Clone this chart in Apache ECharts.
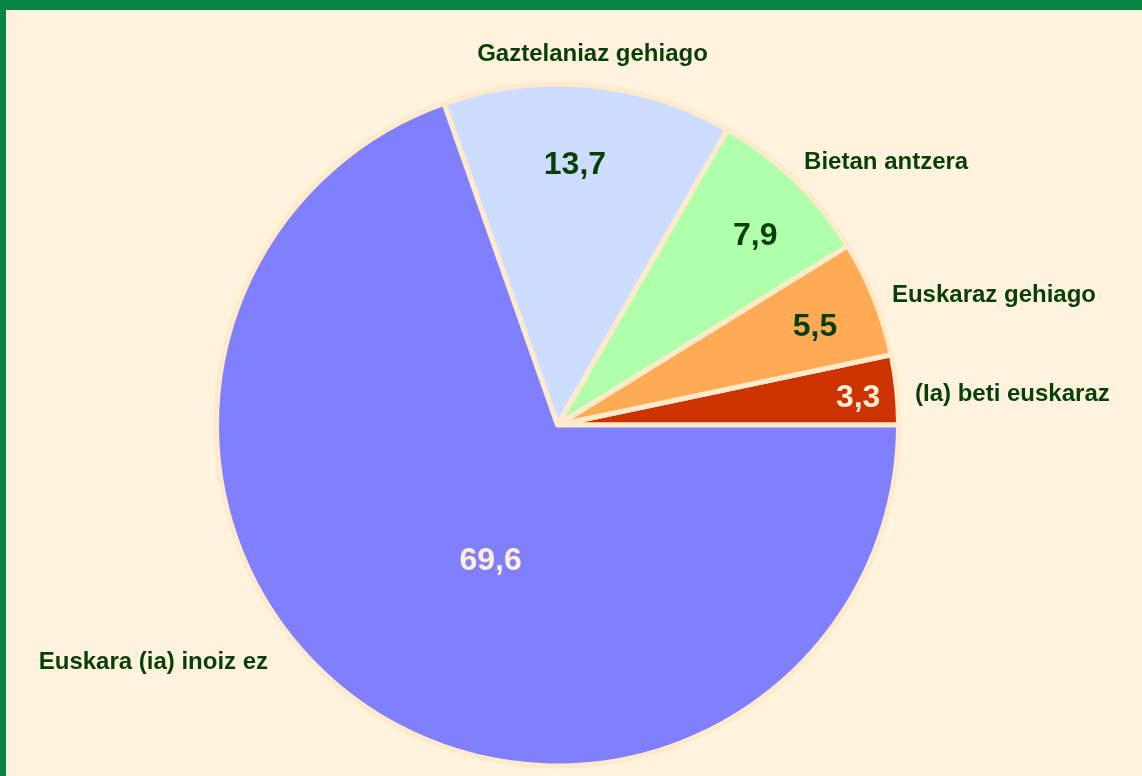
<!DOCTYPE html>
<html>
<head>
<meta charset="utf-8">
<script src="https://cdn.jsdelivr.net/npm/echarts@6/dist/echarts.min.js"></script>
<style>
  html, body { margin: 0; padding: 0; background: #FFF3DE; }
  #wrap { position: relative; width: 1142px; height: 776px; overflow: hidden; }
  #chart { position: absolute; left: 0; top: 0; width: 1142px; height: 776px; }
  .bar { position: absolute; background: #07843F; }
</style>
</head>
<body>
<div id="wrap">
  <div id="chart"></div>
  <div class="bar" style="left:0;top:0;width:1142px;height:10px;"></div>
  <div class="bar" style="left:0;top:0;width:6px;height:776px;"></div>
</div>
<script>
// ---- data ----
const categories = ['(Ia) beti euskaraz', 'Euskaraz gehiago', 'Bietan antzera', 'Gaztelaniaz gehiago', 'Euskara (ia) inoiz ez'];
const values = [3.3, 5.5, 7.9, 13.7, 69.6];

// ---- style ----
const sliceColors = ['#CC3300', '#FFAA55', '#B0FFAA', '#CCDDFF', '#8080FF'];
const cream = '#FFEFD5';
const darkGreen = '#073F07';
const FONT = '"Liberation Sans", Arial, sans-serif';
const valueTextColors = [cream, darkGreen, darkGreen, darkGreen, cream];
// [radius px, angle shift deg] relative to slice mid-angle
const valuePlace = [[302, -0.5], [276, -0.65], [275, -1.9], [262, 1.4], [150, 8.8]];
// [radius px, angle shift deg, align]
const namePlace = [[359, -0.67, 'left'], [359.4, -0.3, 'left'], [361.6, 1.1, 'left'], [374.6, -0.14, 'center'], [373, -15.6, 'right']];
const TEXT_DY = 2;

const CX = 557.5, CY = 425, R = 341;
const total = values.reduce((a, b) => a + b, 0);
const midAngles = [];
(function () {
  let cum = 0;
  values.forEach(v => { midAngles.push((cum + v / 2) / total * 360); cum += v; });
})();
function polar(r, deg) {
  const a = deg * Math.PI / 180;
  return [CX + r * Math.cos(a), CY - r * Math.sin(a)];
}

const chart = echarts.init(document.getElementById('chart'), null, { renderer: 'canvas' });
const pieData = categories.map((c, i) => ({
  name: c,
  value: values[i],
  itemStyle: { color: sliceColors[i] },
  label: { color: valueTextColors[i] }
}));
const nameData = categories.map((c, i) => ({ name: c, value: values[i] }));

chart.setOption({
  backgroundColor: '#FFF3DE',
  animation: false,
  series: [
    {
      type: 'pie',
      center: [CX, CY],
      radius: [0, R],
      startAngle: 0,
      clockwise: false,
      avoidLabelOverlap: false,
      silent: true,
      emphasis: { disabled: true },
      itemStyle: { borderColor: '#FFEBCC', borderWidth: 5 },
      label: {
        show: true,
        position: 'inside',
        fontFamily: FONT,
        fontWeight: 'bold',
        fontSize: 32,
        formatter: p => String(p.value).replace('.', ',')
      },
      labelLine: { show: false },
      labelLayout: p => {
        const i = p.dataIndex;
        const pt = polar(valuePlace[i][0], midAngles[i] + valuePlace[i][1]);
        return { x: pt[0], y: pt[1] + TEXT_DY, align: 'center', verticalAlign: 'middle' };
      },
      data: pieData
    },
    {
      type: 'pie',
      center: [CX, CY],
      radius: [0, R],
      startAngle: 0,
      clockwise: false,
      avoidLabelOverlap: false,
      silent: true,
      emphasis: { disabled: true },
      itemStyle: { color: 'rgba(0,0,0,0)', borderWidth: 0 },
      label: {
        show: true,
        position: 'inside',
        fontFamily: FONT,
        fontWeight: 'bold',
        fontSize: 24,
        color: darkGreen,
        formatter: p => p.name
      },
      labelLine: { show: false },
      labelLayout: p => {
        const i = p.dataIndex;
        const pt = polar(namePlace[i][0], midAngles[i] + namePlace[i][1]);
        return { x: pt[0], y: pt[1] + TEXT_DY, align: namePlace[i][2], verticalAlign: 'middle' };
      },
      data: nameData
    }
  ]
});
</script>
</body>
</html>
